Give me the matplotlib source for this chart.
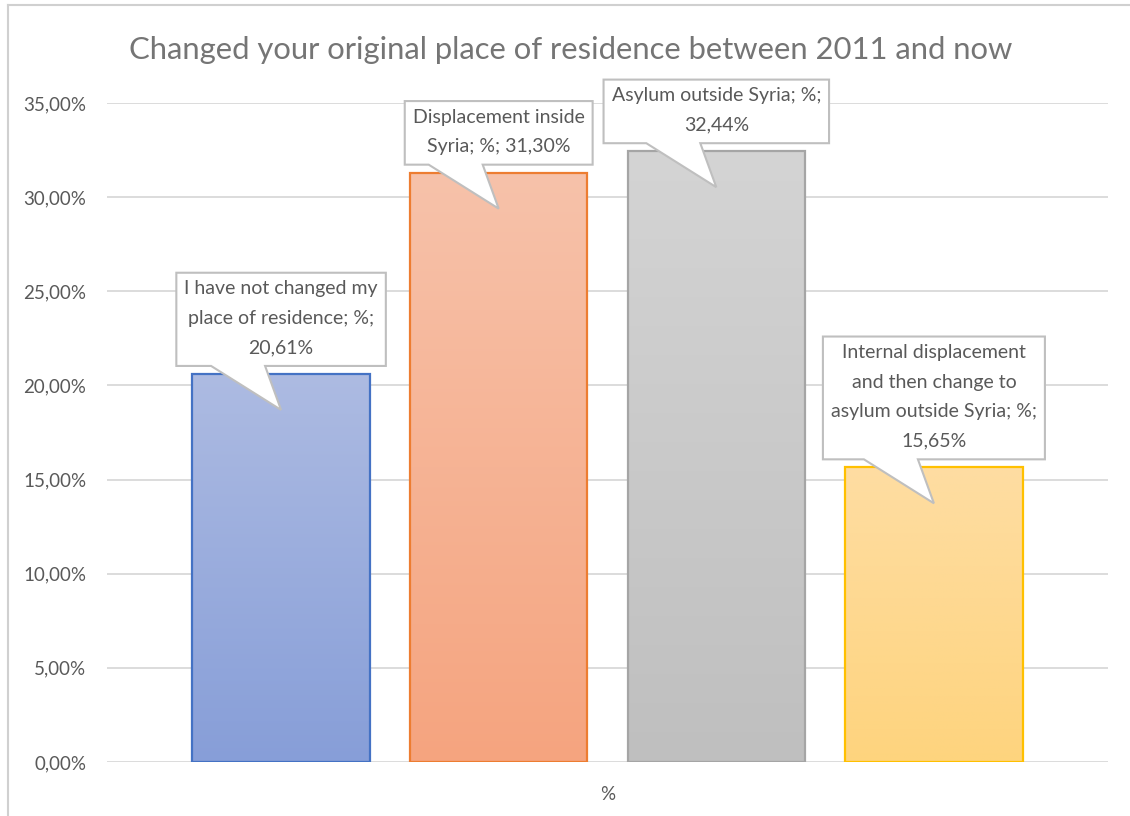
import matplotlib
matplotlib.use("Agg")
import matplotlib.pyplot as plt
import numpy as np
from matplotlib.colors import LinearSegmentedColormap
from matplotlib.lines import Line2D
from matplotlib.patches import Polygon
from matplotlib.ticker import FuncFormatter, MultipleLocator

# data
labels = ["I have not changed my\nplace of residence; %;\n20,61%",
          "Displacement inside\nSyria; %; 31,30%",
          "Asylum outside Syria; %;\n32,44%",
          "Internal displacement\nand then change to\nasylum outside Syria; %;\n15,65%"]
values = [0.2061, 0.3130, 0.3244, 0.1565]
category = "%"
title = "Changed your original place of residence between 2011 and now"

# styles
tops = ["#adbbe2", "#f7c2aa", "#d4d4d4", "#fedda2"]
bottoms = ["#879ed8", "#f5a47f", "#bfbfbf", "#fed47e"]
edges = ["#4472c4", "#ed7d31", "#a5a5a5", "#ffc000"]
txt = "#595959"

plt.rcParams['font.family'] = ['Lato', 'DejaVu Sans']

W, H = 1130, 816
fig = plt.figure(figsize=(W / 100, H / 100), dpi=100)
ax = fig.add_axes([107 / W, (H - 762) / H, 1001 / W, 659 / H])

x = np.arange(len(values))
width = 0.816

for i, v in enumerate(values):
    bar = ax.bar(x[i], v, width, color='none', edgecolor=edges[i], linewidth=1.6, zorder=3)[0]
    cmap = LinearSegmentedColormap.from_list("g%d" % i, [bottoms[i], tops[i]])
    grad = np.linspace(0, 1, 256).reshape(-1, 1)
    im = ax.imshow(grad, cmap=cmap, origin='lower', aspect='auto',
                   extent=[x[i] - width / 2, x[i] + width / 2, 0, v], zorder=2)
    im.set_clip_path(bar)

ax.set_xlim(-0.8, 3.8)
ax.set_ylim(0, 0.35)
ax.yaxis.set_major_locator(MultipleLocator(0.05))
ax.yaxis.set_major_formatter(FuncFormatter(lambda y, p: ("%.2f%%" % (y * 100)).replace(".", ",")))
ax.grid(axis='y', color='#d9d9d9', linewidth=1.3, zorder=0)
ax.set_axisbelow(True)
for s in ax.spines.values():
    s.set_visible(False)
ax.tick_params(axis='y', length=0, pad=15, labelsize=13.5, labelcolor=txt)
ax.set_xticks([1.5])
ax.set_xticklabels([category])
ax.tick_params(axis='x', length=0, pad=17, labelsize=13.5, labelcolor=txt)

fig.text(571 / W, 1 - 50 / H, title, ha='center', va='center', fontsize=22.3, color='#757575')

# frame lines
fig.add_artist(Line2D([8 / W, 8 / W], [0, 1 - 5 / H], color='#d0d0d0', lw=1.5))
fig.add_artist(Line2D([8 / W, 1], [1 - 5 / H, 1 - 5 / H], color='#d0d0d0', lw=1.5))

# callouts
fig.canvas.draw()
renderer = fig.canvas.get_renderer()
inv = ax.transData.inverted()
for i, v in enumerate(values):
    cx, top = ax.transData.transform((x[i], v))
    t = ax.text(x[i], v, labels[i], ha='center', va='center', fontsize=14,
                color=txt, linespacing=1.9, zorder=6)
    bb = t.get_window_extent(renderer)
    bw = bb.width + 16
    bh = bb.height + 17
    B = top + 8
    T = B + bh
    L = cx - bw / 2
    R = cx + bw / 2
    t.set_position(inv.transform((cx, (B + T) / 2 + 1)))
    pts = [(L, T), (R, T), (R, B), (cx - 16, B), (cx, top - 36), (cx - 70, B), (L, B)]
    poly = Polygon(inv.transform(pts), closed=True, facecolor='white',
                   edgecolor='#bfbfbf', linewidth=1.5, zorder=5, clip_on=False)
    ax.add_patch(poly)

fig.savefig("out.png", dpi=100)
